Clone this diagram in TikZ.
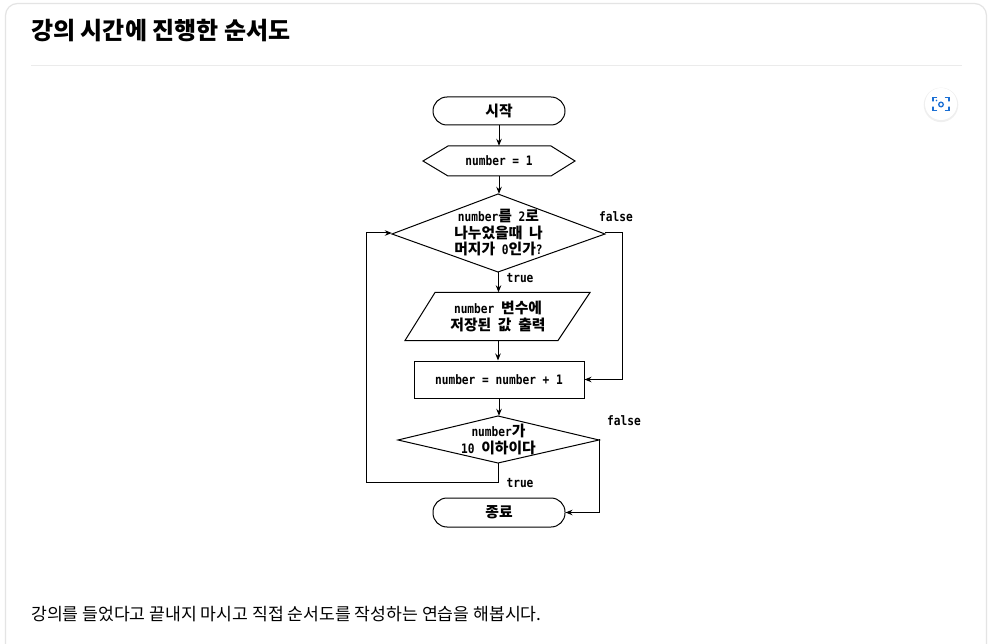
\documentclass[tikz,border=0pt]{standalone}
\usepackage{fontspec}
\setmainfont{Noto Sans CJK KR}
\newfontfamily\fkr{Noto Sans CJK KR}
\newfontfamily\fmono[FakeStretch=0.86]{DejaVu Sans Mono}
\usetikzlibrary{arrows.meta,shadows}
\newcommand\hg[1]{{\fkr\fontsize{14.8}{16.5}\selectfont #1}}
\definecolor{cardline}{HTML}{E4E4E4}
\definecolor{sepline}{HTML}{EBEBEB}
\definecolor{iconblue}{HTML}{1A6FD4}
\tikzset{
  fc/.style={font=\fmono\bfseries\fontsize{13}{16.5}\selectfont, align=center, inner sep=0pt},
  shapeline/.style={draw=black, line width=1pt},
  term/.style={fc, shapeline, rounded corners=14pt, minimum width=132pt, minimum height=28pt},
  procbox/.style={fc, shapeline, minimum width=170pt, minimum height=37pt},
  arr/.style={draw=black, line width=1pt, -{Stealth[length=7pt,width=5.5pt]}},
  lbl/.style={fc},
}
\begin{document}
\begin{tikzpicture}[x=1pt,y=-1pt]
\useasboundingbox (0,0) rectangle (996,644);
\fill[white] (0,0) rectangle (996,644);
% card
\draw[cardline, line width=1.2pt, rounded corners=12pt] (5.5,3.5) rectangle (986.5,720);
\draw[sepline, line width=1.8pt] (31,65.5) -- (962,65.5);
% title
\node[anchor=base west, inner sep=0pt, font=\fkr\bfseries\fontsize{24}{26}\selectfont] (title) at (31,40) {강의 시간에 진행한 순서도};
% icon
\node[circle, fill=white, minimum size=32pt, inner sep=0pt, drop shadow={shadow xshift=0pt, shadow yshift=-0.8pt, opacity=0.12, shadow scale=1.08}] (icon) at (941,104) {};
\begin{scope}[iconblue, line width=1.3pt, line cap=round]
  \draw (933,101) -- (933,97.5) -- (936.5,97.5);
  \draw (945.5,97.5) -- (949,97.5) -- (949,101);
  \draw (933,107) -- (933,110.5) -- (936.5,110.5);
  \draw (945.5,110.5) -- (949,110.5) -- (949,107);
  \draw (941,104.5) circle (2.3);
  \fill (936.5,100.5) circle (0.9);
\end{scope}
% flowchart
\node[term] (start) at (499,111) {\hg{시작}};
\draw[shapeline] (423,161) -- (448,146) -- (551,146) -- (575,161) -- (551,176) -- (448,176) -- cycle;
\node[fc, minimum width=152pt, minimum height=30pt] (hex) at (499,161) {number = 1};
\draw[shapeline] (498,194) -- (605,234) -- (498,272) -- (392,234) -- cycle;
\node[fc, minimum width=213pt, minimum height=78pt] (d1) at (498.5,233) {number\hg{를} 2\hg{로}\\\hg{나누었을때} \hg{나}\\\hg{머지가} 0\hg{인가}?};
\draw[shapeline] (435,292.5) -- (590,292.5) -- (558,340.5) -- (405,340.5) -- cycle;
\node[fc, minimum width=185pt, minimum height=48pt] (out) at (498,316.5) {number \hg{변수에}\\\hg{저장된} \hg{값} \hg{출력}};
\node[procbox] (inc) at (499,379.5) {number = number + 1};
\draw[shapeline] (498,416) -- (599,440) -- (498,463) -- (398,440) -- cycle;
\node[fc, minimum width=201pt, minimum height=47pt] (d2) at (498.5,439.5) {number\hg{가}\\10 \hg{이하이다}};
\node[term, minimum height=29pt] (end) at (499,512.5) {\hg{종료}};
% connectors
\draw[arr] (start.south) -- (start.south |- hex.north);
\draw[arr] (hex.south) -- (hex.south |- d1.north);
\draw[arr] (d1.south) -- (d1.south |- out.north);
\draw[arr] (out.south) -- (out.south |- inc.north);
\draw[arr] (inc.south) -- (inc.south |- d2.north);
\coordinate (f1) at (622.5,379.5);
\draw[arr] (d1.east) -| (f1) -- (inc.east);
\coordinate (lp) at (366.5,482);
\draw[arr] (d2.south) |- (lp) |- (d1.west);
\coordinate (f2) at (599.5,512.5);
\draw[arr] (d2.east) -| (f2) -- (end.east);
% labels
\node[lbl] (lf1) at (616,217) {false};
\node[lbl] (lt1) at (520,278) {true};
\node[lbl] (lf2) at (624,421) {false};
\node[lbl] (lt2) at (520,483) {true};
% bottom text
\node[anchor=base west, inner sep=0pt, font=\fkr\fontsize{17.2}{20}\selectfont] (body) at (31,620) {강의를 들었다고 끝내지 마시고 직접 순서도를 작성하는 연습을 해봅시다.};
\end{tikzpicture}
\end{document}
